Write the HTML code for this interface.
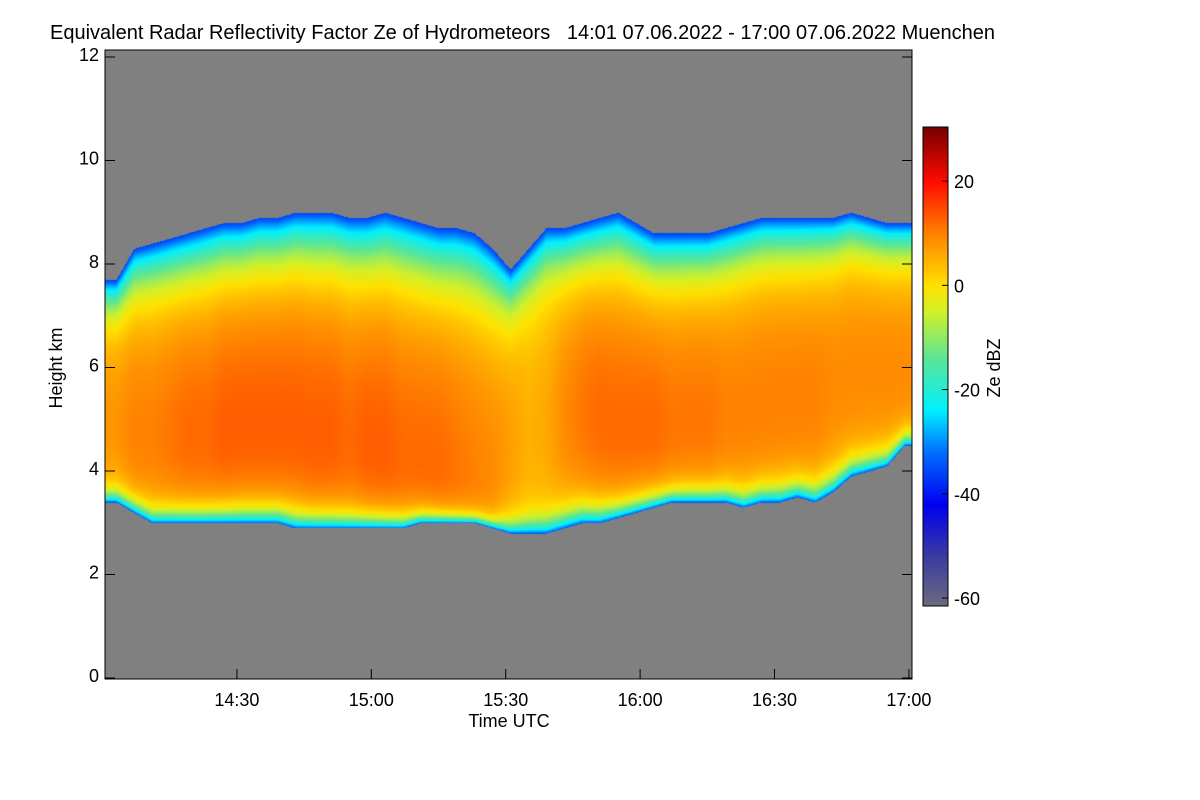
<!DOCTYPE html>
<html><head><meta charset="utf-8"><style>
body{margin:0;background:#fff;width:1200px;height:800px;overflow:hidden;font-family:"Liberation Sans",sans-serif;}
svg text{font-family:"Liberation Sans",sans-serif;fill:#000;white-space:pre;}
#plot{position:absolute;left:105px;top:50px;}
#cbar{position:absolute;left:923px;top:127px;}
#ov{position:absolute;left:0;top:0;}
</style></head><body>
<canvas id="plot" width="807" height="629"></canvas>
<canvas id="cbar" width="25" height="479"></canvas>
<svg id="ov" width="1200" height="800"></svg>
<script>
// Data: 4-minute bins starting 14:01
const binMinutes = 4;
const cloudTop = [7.7,8.3,8.4,8.5,8.6,8.7,8.8,8.8,8.9,8.9,9.0,9.0,9.0,8.9,8.9,9.0,8.9,8.8,8.7,8.7,8.6,8.3,7.9,8.3,8.7,8.7,8.8,8.9,9.0,8.8,8.6,8.6,8.6,8.6,8.7,8.8,8.9,8.9,8.9,8.9,8.9,9.0,8.9,8.8,8.8];
const cloudBase = [3.4,3.2,3.0,3.0,3.0,3.0,3.0,3.0,3.0,3.0,2.9,2.9,2.9,2.9,2.9,2.9,2.9,3.0,3.0,3.0,3.0,2.9,2.8,2.8,2.8,2.9,3.0,3.0,3.1,3.2,3.3,3.4,3.4,3.4,3.4,3.3,3.4,3.4,3.5,3.4,3.6,3.9,4.0,4.1,4.5];
const maxZe = [8,10,10,11,12,12,13,13,13,13,13,13,13,12,13,13,12,12,12,11,10,9,7,5,6,9,11,12,12,12,12,11,11,11,10,10,10,10,10,10,9,9,9,9,9];
const coreHeight = [5.0,4.8,4.8,4.8,4.8,4.8,4.9,5.0,5.0,5.0,5.0,4.8,4.8,4.7,4.6,4.5,4.4,4.3,4.2,4.1,4.0,4.0,4.5,4.8,5.0,5.2,5.3,5.2,5.0,5.0,5.0,5.0,5.1,5.1,5.2,5.3,5.4,5.5,5.5,5.6,5.8,6.0,6.0,6.0,6.0];
const yTicks = [0,2,4,6,8,10,12];
const xTickLabels = ["14:30","15:00","15:30","16:00","16:30","17:00"];
const xTickMinutes = [29,59,89,119,149,179];
const cbTicks = [20,0,-20,-40,-60];

const PX0=105, PX1=912, PY0=50, PY1=679;
const xScale = m => 107 + m*4.48;
const yScale = h => 678 - h*51.75;
const cbY = z => 129 + (30 - z)*(598-129)/90;

const stops=[[-62,[110,110,125]],[-52,[60,60,160]],[-42,[0,0,240]],[-32,[0,110,255]],[-24,[0,240,255]],[-14,[90,230,150]],[-5,[210,240,40]],[0,[255,225,0]],[10,[255,130,0]],[20,[255,10,0]],[30,[125,0,0]]];
function cmap(z){
  if(z<=stops[0][0])return stops[0][1];
  for(let i=1;i<stops.length;i++){if(z<=stops[i][0]){const a=stops[i-1],b=stops[i],t=(z-a[0])/(b[0]-a[0]);return a[1].map((v,k)=>v+(b[1][k]-v)*t);}}
  return stops[stops.length-1][1];
}
const cv=document.getElementById('plot'),ctx=cv.getContext('2d');
const W=cv.width,H=cv.height,img=ctx.createImageData(W,H);
const n=cloudTop.length;
function val(arr,f){const i=Math.max(0,Math.min(n-1,Math.floor(f))),j=Math.min(n-1,i+1),t=Math.max(0,Math.min(1,f-i));return arr[i]+(arr[j]-arr[i])*t;}
for(let px=0;px<W;px++){
  const x=PX0+px, m=(x-107)/4.48, f=m/binMinutes-0.5;
  const top=val(cloudTop,f),base=val(cloudBase,f),mz=val(maxZe,f),ch=val(coreHeight,f);
  for(let py=0;py<H;py++){
    const y=PY0+py,h=(678-y)/51.75;
    let c=[128,128,128];
    if(h>=base&&h<=top){
      let z;
      if(h>=ch){const r=(h-ch)/(top-ch);z=mz-(mz+2)*Math.pow(r,1.8)-34*Math.pow(r,5);}
      else{const r=(ch-h)/(ch-base);z=mz-(mz+2)*Math.pow(r,3)-32*Math.pow(r,9);}
      c=cmap(z);
    }
    const k=(py*W+px)*4;img.data[k]=c[0];img.data[k+1]=c[1];img.data[k+2]=c[2];img.data[k+3]=255;
  }
}
ctx.putImageData(img,0,0);
const cb=document.getElementById('cbar'),cc=cb.getContext('2d');
for(let py=0;py<cb.height;py++){const z=30-(py+127-129)*90/(598-129);const c=cmap(z);cc.fillStyle=`rgb(${c.map(Math.round).join(',')})`;cc.fillRect(0,py,25,1);}
const svg=document.getElementById('ov'),NS='http://www.w3.org/2000/svg';
function el(t,a,txt){const e=document.createElementNS(NS,t);for(const k in a)e.setAttribute(k,a[k]);if(txt!==undefined)e.textContent=txt;svg.appendChild(e);return e;}
let e=el('rect',{x:PX0,y:PY0,width:PX1-PX0,height:PY1-PY0,fill:'none',stroke:'#000','stroke-width':1});


e=el('rect',{x:923,y:127,width:25,height:479,fill:'none',stroke:'#000','stroke-width':1});


e=el('text',{x:50,y:39,'font-size':20},'Equivalent Radar Reflectivity Factor Ze of Hydrometeors   14:01 07.06.2022 - 17:00 07.06.2022 Muenchen');


for(const t of yTicks){const y=yScale(t);
  e=el('line',{x1:PX0,x2:PX0+10,y1:y,y2:y,stroke:'#000'});
  
  
  e=el('line',{x1:PX1,x2:PX1-10,y1:y,y2:y,stroke:'#000'});
  
  
  e=el('text',{x:99,y:y+4,'font-size':18,'text-anchor':'end'},String(t));
  
  
}
for(let i=0;i<xTickLabels.length;i++){const x=xScale(xTickMinutes[i]);
  e=el('line',{x1:x,x2:x,y1:PY1,y2:PY1-10,stroke:'#000'});
  
  
  e=el('text',{x:x,y:706,'font-size':18,'text-anchor':'middle'},xTickLabels[i]);
  
  
}
for(const t of cbTicks){const y=cbY(t);
  e=el('line',{x1:942,x2:948,y1:y,y2:y,stroke:'#000'});
  
  
  e=el('text',{x:954,y:y+7,'font-size':18},String(t));
  
  
}
e=el('text',{x:509,y:727,'font-size':18,'text-anchor':'middle'},'Time UTC');


e=el('text',{x:62,y:368,'font-size':18,'text-anchor':'middle',transform:'rotate(-90 62 368)'},'Height km');


e=el('text',{x:1000,y:368,'font-size':18,'text-anchor':'middle',transform:'rotate(-90 1000 368)'},'Ze dBZ');


</script>
</body></html>
